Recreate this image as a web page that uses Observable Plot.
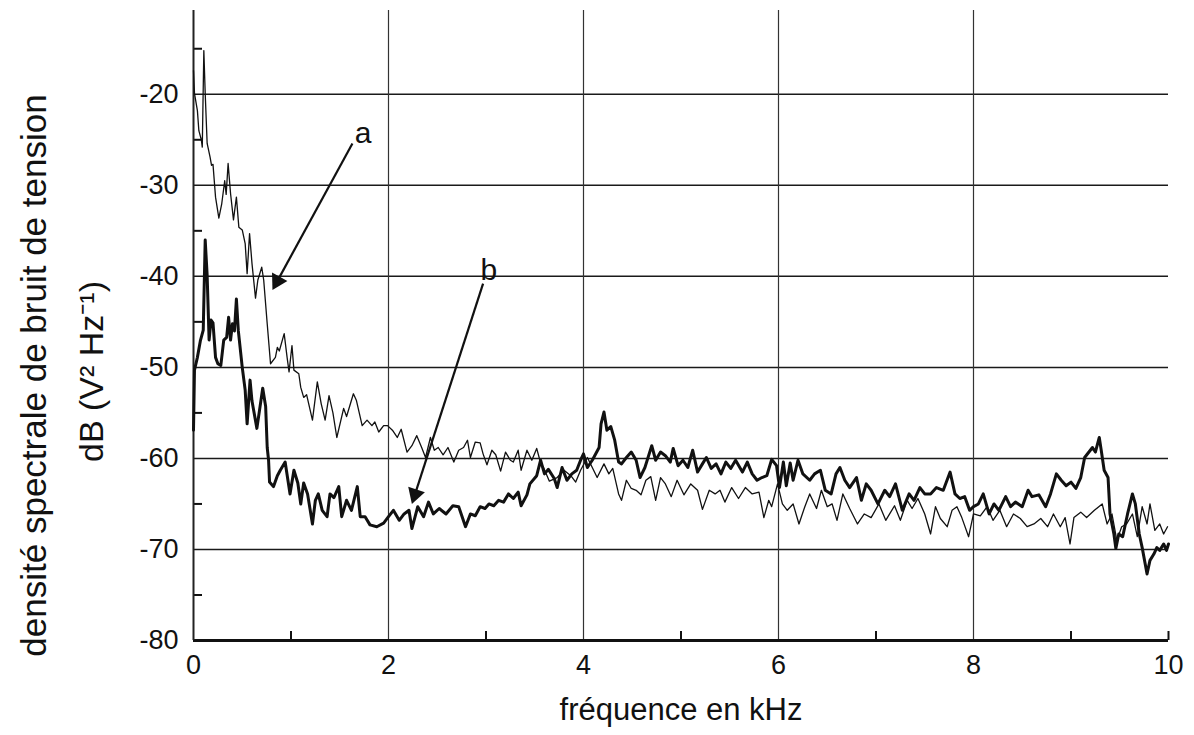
<!DOCTYPE html>
<html><head><meta charset="utf-8">
<script src="https://cdn.jsdelivr.net/npm/d3@7"></script>
<script src="https://cdn.jsdelivr.net/npm/@observablehq/plot@0.6"></script>
<style>body{margin:0;background:#fff;}</style>
</head><body><div id="chart"></div>
<script>
// Series a (thin line): frequency (kHz) and level (dB)
const freqA = [0.00,0.01,0.04,0.055,0.08,0.09,0.106,0.12,0.14,0.17,0.185,0.20,0.226,0.26,0.29,0.32,0.335,0.355,0.38,0.41,0.44,0.465,0.50,0.53,0.55,0.575,0.60,0.636,0.66,0.70,0.72,0.756,0.79,0.84,0.86,0.88,0.93,0.96,0.98,1.01,1.03,1.08,1.10,1.13,1.16,1.22,1.27,1.31,1.35,1.39,1.43,1.47,1.54,1.57,1.64,1.67,1.73,1.78,1.83,1.86,1.90,1.95,1.99,2.04,2.09,2.13,2.19,2.24,2.29,2.34,2.38,2.43,2.47,2.51,2.56,2.61,2.67,2.72,2.77,2.81,2.84,2.89,2.94,2.97,3.01,3.06,3.10,3.15,3.20,3.25,3.28,3.33,3.36,3.42,3.47,3.52,3.56,3.59,3.65,3.73,3.80,3.87,3.92,3.97,4.04,4.09,4.14,4.21,4.26,4.30,4.36,4.39,4.44,4.49,4.54,4.59,4.64,4.69,4.74,4.79,4.84,4.90,4.96,5.03,5.10,5.17,5.22,5.29,5.35,5.40,5.45,5.52,5.59,5.66,5.73,5.80,5.85,5.90,5.93,5.99,6.04,6.09,6.15,6.21,6.27,6.32,6.39,6.44,6.50,6.55,6.60,6.66,6.73,6.81,6.88,6.95,7.03,7.10,7.19,7.25,7.32,7.37,7.43,7.50,7.56,7.61,7.66,7.73,7.78,7.83,7.88,7.95,8.00,8.07,8.14,8.20,8.27,8.34,8.41,8.48,8.55,8.62,8.69,8.76,8.82,8.89,8.94,8.99,9.03,9.10,9.16,9.24,9.32,9.37,9.42,9.47,9.52,9.57,9.63,9.68,9.73,9.78,9.81,9.86,9.91,9.95,9.99];
const dbA = [-17.4,-19.9,-21.8,-24,-25,-25.8,-15.2,-19.9,-25.4,-26.9,-27.8,-27.7,-31.3,-33.6,-32,-29.5,-31,-27.6,-30.9,-33.8,-31.3,-34.6,-34.9,-36.4,-39.7,-35.3,-38.6,-42.4,-40.4,-39,-40.4,-45.2,-49.6,-48.9,-47.8,-48.2,-46.3,-48.9,-50.5,-47.6,-50.3,-50.7,-52.2,-53.3,-53,-55.8,-51.6,-54,-55.8,-53.1,-55,-57.7,-54.5,-55.4,-52.9,-53.6,-56.4,-55.8,-56.4,-56,-57.1,-56.4,-56.4,-56.9,-57.7,-56.8,-59.3,-58.6,-57.5,-58.8,-59.9,-57.7,-59.1,-58.8,-59.6,-58.8,-60.4,-59.1,-58.8,-58,-59.9,-58.2,-58.3,-59.5,-60.7,-59.1,-59.6,-61.4,-59.3,-60.2,-60.4,-59.1,-61.3,-59.1,-60.2,-58.9,-60.5,-61,-62.5,-62.1,-61.3,-61.9,-62.6,-61.3,-59.9,-61,-62.1,-60.6,-61.7,-61.1,-63.9,-64.6,-62.4,-63.3,-63.5,-64,-62.4,-62,-64.6,-62.1,-62.8,-64.2,-62.4,-64,-62.8,-63.5,-65.6,-63.5,-63.9,-63.5,-64.8,-63.2,-64.4,-63.2,-63.9,-63.7,-66.5,-64.6,-65.3,-62.8,-65,-65.7,-65,-67.2,-65.3,-63.9,-65.5,-63.5,-65.3,-65,-66.8,-63.9,-65.5,-67.2,-66.1,-66.5,-65,-66.8,-65.2,-66.8,-64.6,-65.5,-64.4,-66.1,-68.3,-65.3,-66.6,-67.5,-65.7,-65.3,-66.5,-68.6,-66.1,-66.3,-65.3,-66.8,-65.7,-67.5,-66.1,-66.6,-67.5,-67.2,-66.6,-67.5,-66.1,-67.5,-66.5,-69.4,-66.5,-65.9,-66.5,-65.7,-65,-67.2,-66.1,-69,-67.5,-67.2,-66.1,-68.6,-65.3,-67.2,-65,-67.9,-67.2,-68.3,-67.5];

// Series b (thick line)
const freqB = [0.00,0.01,0.04,0.07,0.10,0.12,0.14,0.16,0.18,0.20,0.226,0.25,0.28,0.31,0.34,0.36,0.38,0.40,0.42,0.44,0.46,0.50,0.53,0.55,0.58,0.60,0.65,0.71,0.74,0.756,0.77,0.78,0.82,0.86,0.89,0.94,0.99,1.03,1.07,1.10,1.13,1.17,1.22,1.25,1.28,1.32,1.37,1.40,1.44,1.49,1.52,1.57,1.62,1.68,1.71,1.76,1.81,1.88,1.95,2.00,2.05,2.11,2.16,2.21,2.24,2.30,2.36,2.41,2.46,2.52,2.59,2.66,2.72,2.79,2.84,2.89,2.94,2.99,3.03,3.08,3.13,3.18,3.23,3.28,3.33,3.36,3.42,3.45,3.52,3.56,3.60,3.64,3.70,3.73,3.78,3.83,3.88,3.93,3.97,4.00,4.04,4.09,4.16,4.18,4.21,4.24,4.28,4.32,4.36,4.39,4.44,4.49,4.54,4.58,4.63,4.70,4.74,4.79,4.84,4.89,4.92,4.97,5.02,5.07,5.12,5.17,5.22,5.26,5.31,5.36,5.41,5.46,5.51,5.56,5.63,5.68,5.73,5.78,5.83,5.88,5.93,5.98,6.01,6.05,6.08,6.12,6.15,6.20,6.25,6.32,6.37,6.43,6.48,6.54,6.59,6.63,6.68,6.73,6.80,6.85,6.90,6.95,7.02,7.09,7.14,7.20,7.27,7.34,7.39,7.45,7.50,7.56,7.62,7.69,7.76,7.81,7.86,7.91,7.96,8.00,8.05,8.10,8.16,8.21,8.26,8.33,8.38,8.43,8.50,8.56,8.60,8.67,8.74,8.79,8.85,8.90,8.95,9.00,9.05,9.10,9.14,9.22,9.25,9.29,9.31,9.34,9.38,9.40,9.44,9.46,9.49,9.53,9.58,9.63,9.66,9.70,9.73,9.78,9.81,9.85,9.88,9.91,9.95,9.98,10.0];
const dbB = [-56.9,-50.3,-48.9,-47.1,-45.9,-36,-39.9,-47,-44.8,-45.1,-48.9,-49.6,-49.8,-47,-46.7,-44.5,-47,-45.2,-46,-42.5,-46,-50,-52.5,-56.2,-51.4,-53.7,-56.7,-52.3,-54.3,-58.8,-60.2,-62.6,-63.1,-61.9,-61.3,-60.4,-63.9,-61.3,-62.7,-65,-62.7,-63.9,-67.2,-64.6,-63.9,-65.7,-66.4,-63.9,-64.3,-63.1,-66.4,-64.6,-65.7,-63.1,-66.4,-66.4,-67.3,-67.5,-67.1,-66.4,-65.7,-66.8,-66.1,-65.7,-67.7,-65.3,-66.4,-64.8,-66.1,-65.5,-66.1,-65.2,-65.3,-67.5,-66.1,-66.3,-65.3,-65.5,-65,-65.2,-64.6,-64.8,-63.9,-64.4,-63.7,-65.2,-64,-62.8,-61.9,-60.2,-61.7,-61.2,-62.2,-63.2,-61,-62.4,-61.7,-61.3,-60.2,-59.5,-61,-60.2,-58.8,-56.2,-54.9,-56.9,-56.5,-58,-60.4,-60.6,-59.9,-59.3,-60.2,-62.1,-61,-58.6,-60.2,-59.3,-59.7,-60.4,-58.9,-60.8,-60.2,-61,-59.1,-61.5,-60.6,-59.9,-61.1,-60.6,-61.7,-60.4,-61.1,-60.2,-61.5,-60.4,-61.7,-62.4,-62.1,-61.9,-60.1,-60.8,-63.2,-60.4,-63,-60.5,-62.4,-60.2,-61.7,-62.4,-61.7,-61.3,-63.5,-63.9,-61.7,-61,-62.4,-63.2,-62.1,-64.6,-62.8,-63.5,-65,-63.5,-64.2,-62.8,-65.7,-63.9,-64.6,-63.2,-63.9,-63.9,-63.2,-63.5,-61.5,-63.9,-64.4,-64.2,-65.7,-65.3,-65,-63.9,-66.1,-65,-65.7,-64.2,-65.3,-64.8,-65.3,-63.5,-64.2,-64,-65.3,-63.9,-61.7,-62.4,-63,-62.6,-63.3,-62.1,-59.9,-58.8,-59.3,-57.7,-59.1,-61.3,-62.1,-66.1,-68.3,-69.9,-68.3,-68.6,-66.1,-63.9,-65,-68.3,-69.8,-72.7,-71.2,-70.5,-69.8,-70.1,-69.4,-70.1,-69.4];

// Axis ticks
const xTicks = [0, 2, 4, 6, 8, 10];
const xGrid = [2, 4, 6, 8];
const xMinor = [1, 3, 5, 7, 9, 10];
const yTicks = [-80, -70, -60, -50, -40, -30, -20];
const yGrid = [-70, -60, -50, -40, -30, -20];
const yMinor = [-75, -65, -55, -45, -35, -25, -15];
const xDomain = [0, 10];
const yDomain = [-80, -10.8];

// Annotations (data units)
const arrowLabels = ["a", "b"];
const arrowFromX = [1.63, 2.97];
const arrowFromY = [-25.4, -40.8];
const arrowToX = [0.81, 2.24];
const arrowToY = [-41.5, -65.0];
const labelX = [1.74, 3.03];
const labelY = [-24.3, -39.3];

const xTitle = "fréquence en kHz";
const yTitle1 = "densité spectrale de bruit de tension";
const yTitle2 = "dB (V² Hz⁻¹)";

const W = 1194, H = 735, ML = 193, MR = 26, MT = 10, MB = 95;

const seriesA = freqA.map((f, i) => ({f, db: dbA[i]}));
const seriesB = freqB.map((f, i) => ({f, db: dbB[i]}));

// screen-space direction of each arrow, from the plot's own scales
const sx = Plot.scale({x: {domain: xDomain, range: [ML, W - MR]}});
const sy = Plot.scale({y: {domain: yDomain, range: [H - MB, MT]}});
const headR = 6.5;
const arrows = arrowLabels.map((l, i) => {
  const X1 = sx.apply(arrowFromX[i]), Y1 = sy.apply(arrowFromY[i]);
  const X2 = sx.apply(arrowToX[i]), Y2 = sy.apply(arrowToY[i]);
  const len = Math.hypot(X2 - X1, Y2 - Y1);
  const ux = (X2 - X1) / len, uy = (Y2 - Y1) / len;
  const back = headR * 1.55;
  return {
    l,
    x1: arrowFromX[i], y1: arrowFromY[i],
    x2: sx.invert(X2 - ux * back * 1.2), y2: sy.invert(Y2 - uy * back * 1.2),
    hx: sx.invert(X2 - ux * back), hy: sy.invert(Y2 - uy * back),
    rot: Math.atan2(ux, -uy) * 180 / Math.PI,
    lx: labelX[i], ly: labelY[i]
  };
});

const chart = Plot.plot({
  width: W,
  height: H,
  marginLeft: ML,
  marginRight: MR,
  marginTop: MT,
  marginBottom: MB,
  x: {domain: xDomain},
  y: {domain: yDomain},
  style: {fontFamily: "'Liberation Sans', Arial, Helvetica, sans-serif", fontSize: "28px", color: "#111", background: "#fff"},
  marks: [
    Plot.ruleY(yGrid, {x1: xDomain[0], x2: xDomain[1], stroke: "#1a1a1a", strokeWidth: 1.5}),
    Plot.ruleX(xGrid, {y1: yDomain[0], y2: yDomain[1], stroke: "#333", strokeWidth: 1.2}),
    Plot.ruleY(yMinor, {x1: xDomain[0], x2: xDomain[0], insetRight: -9, stroke: "#111", strokeWidth: 2}),
    Plot.ruleX(xMinor, {y1: yDomain[0], y2: yDomain[0], insetTop: -9, stroke: "#111", strokeWidth: 2}),
    Plot.ruleY([yDomain[0]], {x1: xDomain[0], x2: xDomain[1], stroke: "#111", strokeWidth: 3}),
    Plot.ruleX([xDomain[0]], {y1: yDomain[0], y2: yDomain[1], stroke: "#222", strokeWidth: 2}),
    Plot.axisX({ticks: xTicks, tickSize: 0, tickPadding: 14, label: null, tickFormat: d => String(d), fontSize: 27}),
    Plot.axisY({ticks: yTicks, tickSize: 0, tickPadding: 15, label: null, tickFormat: d => String(d), fontSize: 27}),
    Plot.line(seriesA, {x: "f", y: "db", stroke: "#111", strokeWidth: 1.3, strokeLinejoin: "round"}),
    Plot.line(seriesB, {x: "f", y: "db", stroke: "#111", strokeWidth: 3, strokeLinejoin: "round"}),
    Plot.link(arrows, {x1: "x1", y1: "y1", x2: "x2", y2: "y2", stroke: "#111", strokeWidth: 2.2}),
    Plot.dot(arrows, {x: "hx", y: "hy", symbol: "triangle", r: headR, rotate: "rot", fill: "#111", stroke: "none"}),
    Plot.text(arrows, {x: "lx", y: "ly", text: "l", fontSize: 30, fill: "#111"}),
    Plot.text([xTitle], {frameAnchor: "bottom", lineAnchor: "middle", dy: 70, fontSize: 31, fill: "#111"}),
    Plot.text([yTitle1], {frameAnchor: "left", textAnchor: "middle", lineAnchor: "middle", dx: -159, dy: 50, rotate: -90, fontSize: 35, fill: "#111"}),
    Plot.text([yTitle2], {frameAnchor: "left", textAnchor: "middle", lineAnchor: "middle", dx: -101, dy: 46, rotate: -90, fontSize: 34, fill: "#111"})
  ]
});
document.getElementById("chart").appendChild(chart);
</script>
</body></html>
